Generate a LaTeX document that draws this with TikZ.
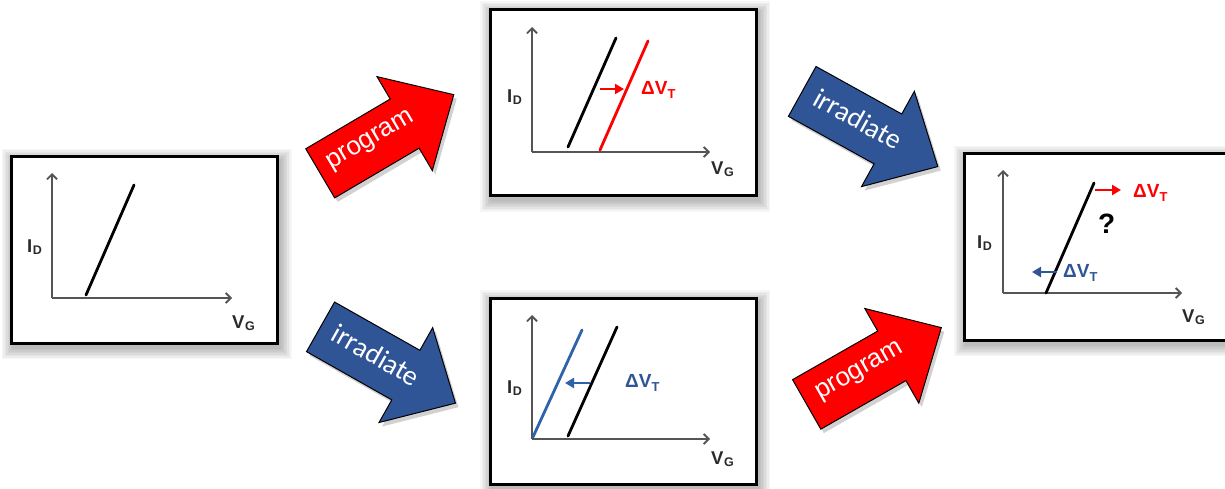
\documentclass[tikz,border=0pt]{standalone}
\usepackage{fontspec}
\setmainfont{Liberation Sans}
\newfontfamily\carlito{Carlito}
\usetikzlibrary{arrows.meta}
\definecolor{myblue}{HTML}{2F5597}
\definecolor{lineblue}{HTML}{2E63AC}
\definecolor{axisgray}{HTML}{555555}
\definecolor{labgray}{HTML}{2A2A2A}
\newcommand\labsub[1]{{\kern0.5pt\fontsize{12.5}{12.5}\selectfont\raisebox{-2pt}{#1}}}
\newcommand\dvsub[1]{{\fontsize{13}{13}\selectfont\raisebox{-4pt}{#1}}}
\newcommand\boxshadow[2]{%
  \foreach \k in {1,...,8}{%
    \fill[black,opacity=.035] (#1-133+2-1.5*\k, #2-93+4-1.5*\k) rectangle (#1+133+2+1.5*\k, #2+93+4+1.5*\k);}}
\tikzset{
  bigarrow/.pic={\path[pic actions] (-77.5,-28.5) -- (20.5,-28.5) -- (20.5,-54.5) -- (77.5,0) -- (20.5,54.5) -- (20.5,28.5) -- (-77.5,28.5) -- cycle;}
}
\begin{document}
\begin{tikzpicture}[x=1pt,y=-1pt,
  box/.style={draw=black, line width=3pt, fill=white, minimum width=266pt, minimum height=186pt, inner sep=0pt},
  axis/.style={draw=axisgray, line width=1.8pt, -{Straight Barb[length=5pt,width=10pt,line width=1.8pt]}},
  curve/.style={line width=2.8pt, line cap=round},
  shiftarrow/.style={line width=2.6pt, -{Triangle[length=9pt,width=10pt]}},
  lab/.style={font=\fontsize{18.5}{18.5}\selectfont\bfseries, text=labgray, inner sep=0pt, anchor=base west},
  dv/.style={font=\fontsize{19}{19}\selectfont\bfseries, inner sep=0pt, anchor=base west},
  arrtext/.style={text=white, inner sep=0pt},
  arrshadow/.style={fill=black, opacity=.18, draw=none},
]
\useasboundingbox (0,0) rectangle (1225,489);
\fill[white] (0,0) rectangle (1225,489);

% ---------- box shadows ----------
\boxshadow{144.5}{250}
\boxshadow{623}{102.5}
\boxshadow{623}{391}
\boxshadow{1097}{247}

% ---------- boxes ----------
\node[box] (B1) at (144.5,250) {};
\node[box] (B2) at (623,102.5) {};
\node[box] (B3) at (623,391) {};
\node[box] (B4) at (1097,247) {};

% ---------- box 1 ----------
\draw[axis] (52,298) -- (52,173);
\draw[axis] (52,298) -- (232,298);
\draw[curve] (86,295) -- (134,185);
\node[lab] (I1) at (27,252) {I\labsub{D}};
\node[lab] (V1) at (232,328) {V\labsub{G}};

% ---------- box 2 ----------
\draw[axis] (532,152) -- (532,27);
\draw[axis] (532,152) -- (710,152);
\draw[curve] (568,147) -- (616,38);
\draw[curve, red] (600,150) -- (648,41);
\draw[shiftarrow, red] (600,89) -- (624,89);
\node[dv, text=red] (D2) at (641,95) {ΔV\dvsub{T}};
\node[lab] (I2) at (507,103) {I\labsub{D}};
\node[lab] (V2) at (711,175) {V\labsub{G}};

% ---------- box 3 ----------
\draw[axis] (532,439) -- (532,315);
\draw[axis] (532,439) -- (710,439);
\draw[curve, lineblue] (533,437) -- (582,330);
\draw[curve] (568,436) -- (617,327);
\draw[shiftarrow, lineblue] (590,383) -- (565,383);
\node[dv, text=myblue] (D3) at (625,387) {ΔV\dvsub{T}};
\node[lab] (I3) at (507,393) {I\labsub{D}};
\node[lab] (V3) at (711,464) {V\labsub{G}};

% ---------- box 4 ----------
\draw[axis] (1003,293) -- (1003,170);
\draw[axis] (1003,293) -- (1182,293);
\draw[curve] (1046,293) -- (1094,183);
\draw[shiftarrow, red] (1095,190) -- (1121,190);
\node[dv, text=red] (D4a) at (1133,197) {ΔV\dvsub{T}};
\draw[shiftarrow, myblue] (1057,272) -- (1032,272);
\node[dv, text=myblue] (D4b) at (1063,277) {ΔV\dvsub{T}};
\node[dv, font=\fontsize{28}{28}\selectfont\bfseries] (Q) at (1098,233) {?};
\node[lab] (I4) at (977,248) {I\labsub{D}};
\node[lab] (V4) at (1182,322) {V\labsub{G}};

% ---------- block arrows ----------
\pic[rotate=30.5, arrshadow] at (390,138) {bigarrow};
\pic[rotate=30.5, fill=red, draw=black, line width=1pt] at (387,134) {bigarrow};
\node[arrtext, rotate=30.5, font=\fontsize{26}{26}\selectfont] (P1) at (371,141) {program};

\pic[rotate=-29, arrshadow] at (873,133) {bigarrow};
\pic[rotate=-29, fill=myblue, draw=black, line width=1pt] at (870,129) {bigarrow};
\node[arrtext, rotate=-29, font=\carlito\fontsize{28}{28}\selectfont] (R1) at (858,119) {irradiate};

\pic[rotate=-29.5, arrshadow] at (391,369) {bigarrow};
\pic[rotate=-29.5, fill=myblue, draw=black, line width=1pt] at (388,365) {bigarrow};
\node[arrtext, rotate=-29.5, font=\carlito\fontsize{28}{28}\selectfont] (R2) at (376,355) {irradiate};

\pic[rotate=29.7, arrshadow] at (877,370) {bigarrow};
\pic[rotate=29.7, fill=red, draw=black, line width=1pt] at (874,366) {bigarrow};
\node[arrtext, rotate=29.7, font=\fontsize{26}{26}\selectfont] (P2) at (860,372) {program};
\end{tikzpicture}
\end{document}
